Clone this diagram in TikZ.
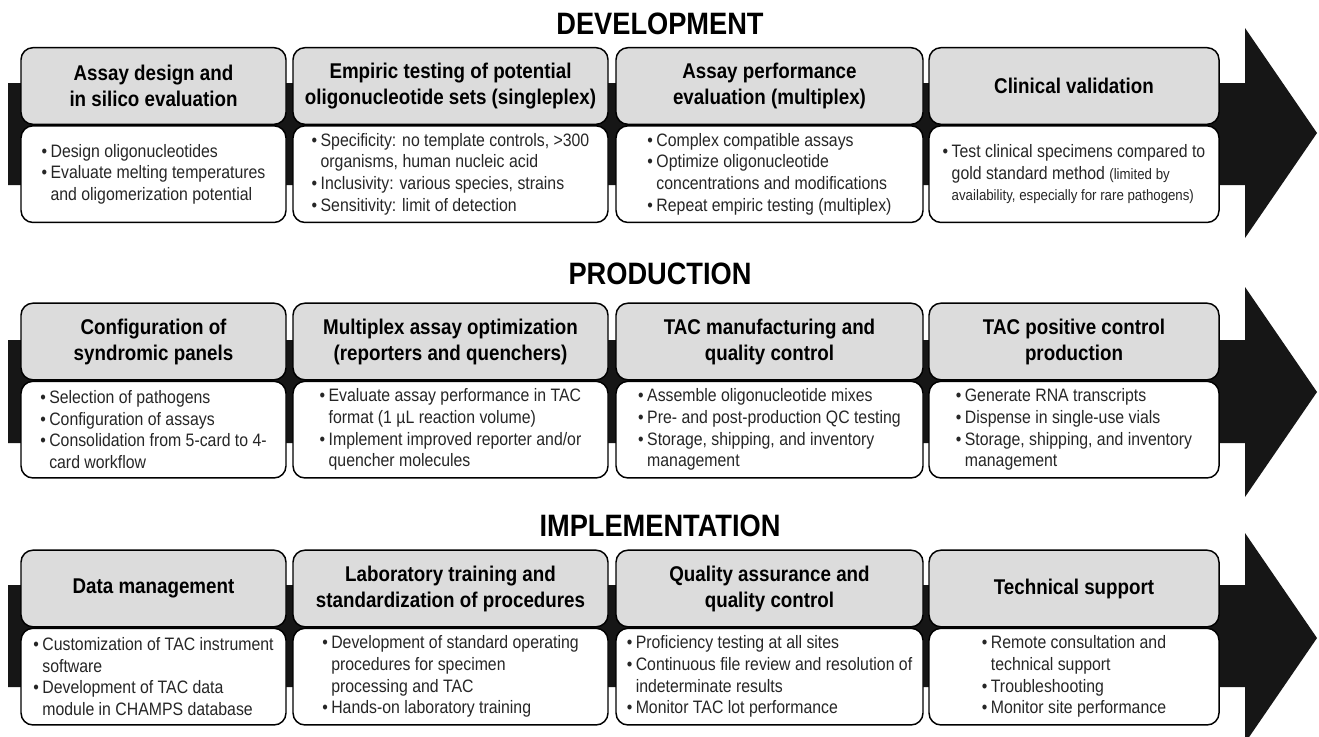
\documentclass[tikz,border=0pt]{standalone}
\usepackage{fontspec}
\setmainfont{Liberation Sans}[FakeStretch=0.88]
\usepackage{tikz}
\usepackage{xcolor}
\usetikzlibrary{positioning}
\definecolor{hdgray}{RGB}{220,220,220}
\definecolor{barblack}{RGB}{22,22,22}
\newcommand{\bul}{\makebox[0.5em][l]{\textbullet}}
\newcommand{\ind}{\hspace*{0.5em}}

\begin{document}
\begin{tikzpicture}[x=0.75pt,y=-0.75pt,
		stage/.style={font=\fontsize{23.2}{26}\selectfont\bfseries},
		head/.style={draw, line width=1.1pt, rounded corners=9pt, fill=hdgray,
			align=center, inner sep=0pt, minimum height=57.5pt,
			font=\fontsize{16}{19.5}\selectfont\bfseries},
		body/.style={draw, line width=1.1pt, rounded corners=9pt, fill=white,
			inner sep=0pt, minimum height=72.5pt},
		btext/.style={align=left, inner sep=0pt, text=black!85,
			font=\fontsize{13.5}{16.3}\selectfont},
		colA/.style={minimum width=198.75pt},
		colB/.style={minimum width=236.25pt},
		colC/.style={minimum width=230.25pt},
		colD/.style={minimum width=217.5pt}]
	\clip (0,0) rectangle (1319,736);
	\fill[white] (0,0) rectangle (1319,736);

	\fill[barblack] (8,83) -- (1245,83) -- (1245,28) -- (1317,133)
		-- (1245,238) -- (1245,185) -- (8,185) -- cycle;
	\fill[barblack] (8,340) -- (1245,340) -- (1245,287) -- (1317,392)
		-- (1245,497) -- (1245,443) -- (8,443) -- cycle;
	\fill[barblack] (8,585) -- (1245,585) -- (1245,533) -- (1317,638)
		-- (1245,743) -- (1245,687) -- (8,687) -- cycle;

	\node[stage] (dev) at (660,24) {DEVELOPMENT};
	\node[stage] (prod) at (660,274) {PRODUCTION};
	\node[stage] (impl) at (660,526) {IMPLEMENTATION};

	\node[head,colA] (d1h) at (153.5,86) {Assay design and\\in silico evaluation};
	\node[body,colA,below=0pt of d1h] (d1b) {};
	\node[btext] (d1t) at (d1b) {\bul Design oligonucleotides\\
		\bul Evaluate melting temperatures\\
		\ind and oligomerization potential};

	\node[head,colB] (d2h) at (450.5,86) {Empiric testing of potential\\oligonucleotide sets (singleplex)};
	\node[body,colB,below=0pt of d2h] (d2b) {};
	\node[btext] (d2t) at (d2b) {\bul Specificity: no template controls, >300\\
		\ind organisms, human nucleic acid\\
		\bul Inclusivity: various species, strains\\
		\bul Sensitivity: limit of detection};

	\node[head,colC] (d3h) at (769.5,86) {Assay performance\\evaluation (multiplex)};
	\node[body,colC,below=0pt of d3h] (d3b) {};
	\node[btext] (d3t) at (d3b) {\bul Complex compatible assays\\
		\bul Optimize oligonucleotide\\
		\ind concentrations and modifications\\
		\bul Repeat empiric testing (multiplex)};

	\node[head,colD] (d4h) at (1074,86) {Clinical validation};
	\node[body,colD,below=0pt of d4h] (d4b) {};
	\node[btext] (d4t) at (d4b) {\bul Test clinical specimens compared to\\
		\ind gold standard method {\fontsize{11.3}{14}\selectfont(limited by}\\
		\ind {\fontsize{11.3}{14}\selectfont availability, especially for rare pathogens)}};

	\node[head,colA] (p1h) at (153.5,341.5) {Configuration of\\syndromic panels};
	\node[body,colA,below=0pt of p1h] (p1b) {};
	\node[btext] (p1t) at (p1b) {\bul Selection of pathogens\\
		\bul Configuration of assays\\
		\bul Consolidation from 5-card to 4-\\
		\ind card workflow};

	\node[head,colB] (p2h) at (450.5,341.5) {Multiplex assay optimization\\(reporters and quenchers)};
	\node[body,colB,below=0pt of p2h] (p2b) {};
	\node[btext] (p2t) at (p2b) {\bul Evaluate assay performance in TAC\\
		\ind format (1 µL reaction volume)\\
		\bul Implement improved reporter and/or\\
		\ind quencher molecules};

	\node[head,colC] (p3h) at (769.5,341.5) {TAC manufacturing and\\quality control};
	\node[body,colC,below=0pt of p3h] (p3b) {};
	\node[btext] (p3t) at (p3b) {\bul Assemble oligonucleotide mixes\\
		\bul Pre- and post-production QC testing\\
		\bul Storage, shipping, and inventory\\
		\ind management};

	\node[head,colD] (p4h) at (1074,341.5) {TAC positive control\\production};
	\node[body,colD,below=0pt of p4h] (p4b) {};
	\node[btext] (p4t) at (p4b) {\bul Generate RNA transcripts\\
		\bul Dispense in single-use vials\\
		\bul Storage, shipping, and inventory\\
		\ind management};

	\node[head,colA] (i1h) at (153.5,588.5) {Data management};
	\node[body,colA,below=0pt of i1h] (i1b) {};
	\node[btext] (i1t) at (i1b) {\bul Customization of TAC instrument\\
		\ind software\\
		\bul Development of TAC data\\
		\ind module in CHAMPS database};

	\node[head,colB] (i2h) at (450.5,588.5) {Laboratory training and\\standardization of procedures};
	\node[body,colB,below=0pt of i2h] (i2b) {};
	\node[btext] (i2t) at (i2b) {\bul Development of standard operating\\
		\ind procedures for specimen\\
		\ind processing and TAC\\
		\bul Hands-on laboratory training};

	\node[head,colC] (i3h) at (769.5,588.5) {Quality assurance and\\quality control};
	\node[body,colC,below=0pt of i3h] (i3b) {};
	\node[btext] (i3t) at (i3b) {\bul Proficiency testing at all sites\\
		\bul Continuous file review and resolution of\\
		\ind indeterminate results\\
		\bul Monitor TAC lot performance};

	\node[head,colD] (i4h) at (1074,588.5) {Technical support};
	\node[body,colD,below=0pt of i4h] (i4b) {};
	\node[btext] (i4t) at (i4b) {\bul Remote consultation and\\
		\ind technical support\\
		\bul Troubleshooting\\
		\bul Monitor site performance};
\end{tikzpicture}
\end{document}
